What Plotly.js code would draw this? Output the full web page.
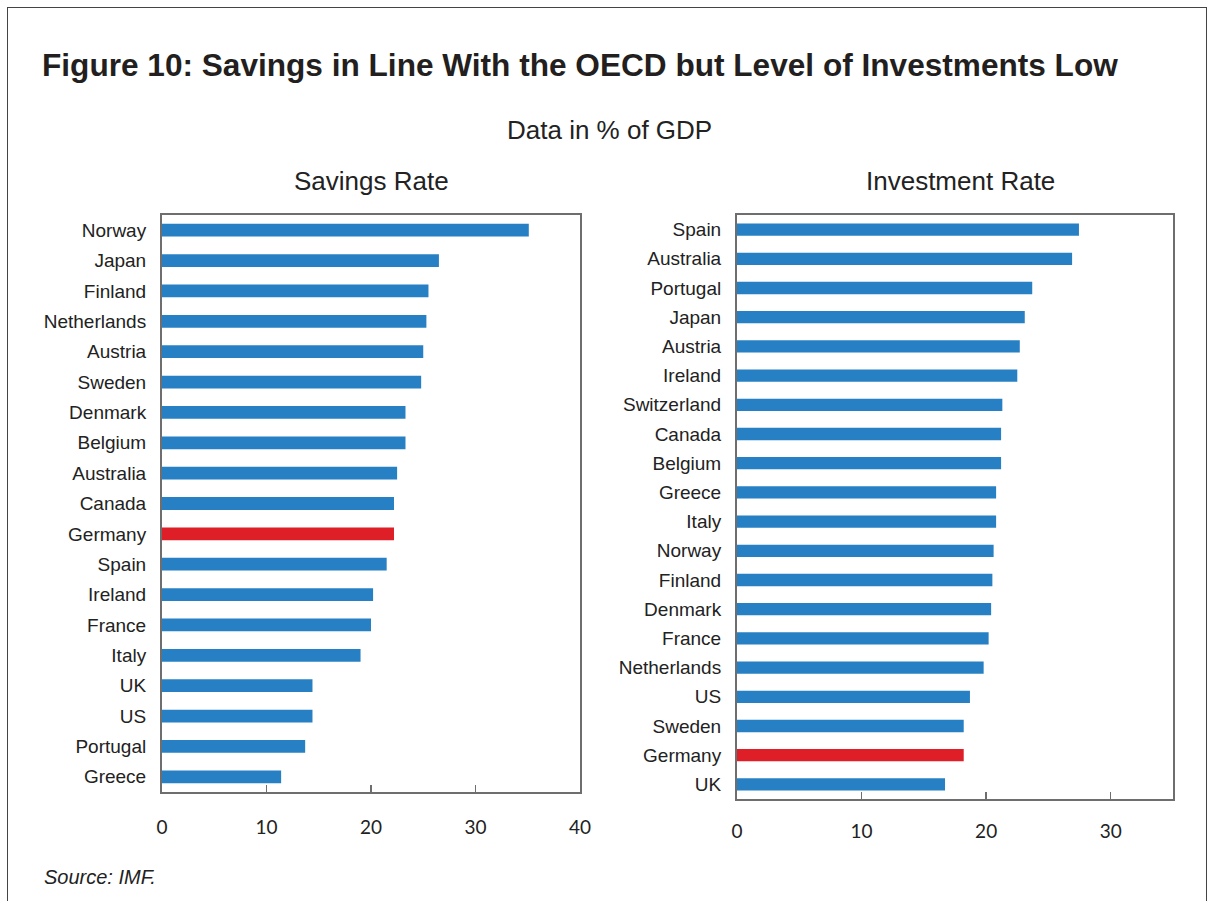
<!DOCTYPE html>
<html>
<head>
<meta charset="utf-8">
<script src="https://cdn.plot.ly/plotly-3.0.1.min.js"></script>
<style>
html,body{margin:0;padding:0;background:#fff;}
#wrap{position:relative;width:1209px;height:901px;overflow:hidden;}
#chart{position:absolute;left:0;top:0;width:1209px;height:901px;}
#frame{position:absolute;left:7px;top:7px;width:1198px;height:910px;border:1.5px solid #444;pointer-events:none;}
</style>
</head>
<body>
<div id="wrap"><div id="chart"></div><div id="frame"></div></div>
<script>
// Savings rate (% of GDP)
const savingsCountries = ["Norway","Japan","Finland","Netherlands","Austria","Sweden","Denmark","Belgium","Australia","Canada","Germany","Spain","Ireland","France","Italy","UK","US","Portugal","Greece"];
const savingsValues = [35.1,26.5,25.5,25.3,25.0,24.8,23.3,23.3,22.5,22.2,22.2,21.5,20.2,20.0,19.0,14.4,14.4,13.7,11.4];

// Investment rate (% of GDP)
const investCountries = ["Spain","Australia","Portugal","Japan","Austria","Ireland","Switzerland","Canada","Belgium","Greece","Italy","Norway","Finland","Denmark","France","Netherlands","US","Sweden","Germany","UK"];
const investValues = [27.45,26.9,23.7,23.1,22.7,22.5,21.3,21.2,21.2,20.8,20.8,20.6,20.5,20.4,20.2,19.8,18.7,18.2,18.2,16.7];

const xTicksLeft = [0,10,20,30,40];
const xTicksRight = [0,10,20,30];
const highlight = "Germany";

const BLUE = "#2780c3", RED = "#de1f27";
const colorsFor = arr => arr.map(c => c === highlight ? RED : BLUE);

const W = 1209, H = 901;
const px = x => x / W, py = y => 1 - y / H;

const traces = [
  {type:"bar", orientation:"h", x:savingsValues, y:savingsCountries, xaxis:"x", yaxis:"y",
   marker:{color:colorsFor(savingsCountries)}, hoverinfo:"x+y", showlegend:false},
  {type:"bar", orientation:"h", x:investValues, y:investCountries, xaxis:"x2", yaxis:"y2",
   marker:{color:colorsFor(investCountries)}, hoverinfo:"x+y", showlegend:false}
];

const tickFont = {family:"Lato, 'Liberation Sans', sans-serif", size:19, color:"#222"};
const catFont = {family:"'Liberation Sans', Arial, sans-serif", size:19, color:"#222"};
const axLine = {showline:true, mirror:true, linecolor:"#6e6e6e", linewidth:2, showgrid:false, zeroline:false};

const layout = {
  width:W, height:H,
  margin:{l:0,r:0,t:0,b:0},
  paper_bgcolor:"#fff", plot_bgcolor:"#fff",
  bargap:0.58,
  xaxis:Object.assign({domain:[px(162),px(580)], anchor:"y", range:[0,40], tickvals:xTicksLeft,
    ticktext:xTicksLeft.map(String), ticks:"inside", ticklen:7, tickwidth:1.5, tickcolor:"#6e6e6e",
    tickfont:tickFont, ticklabelstandoff:17, fixedrange:true}, axLine),
  yaxis:Object.assign({domain:[py(792),py(215)], anchor:"x", type:"category", autorange:"reversed",
    ticks:"", tickfont:catFont, ticklabelstandoff:10, fixedrange:true}, axLine),
  xaxis2:Object.assign({domain:[px(737),px(1173)], anchor:"y2", range:[0,35], tickvals:xTicksRight,
    ticktext:xTicksRight.map(String), ticks:"inside", ticklen:7, tickwidth:1.5, tickcolor:"#6e6e6e",
    tickfont:tickFont, ticklabelstandoff:14, fixedrange:true}, axLine),
  yaxis2:Object.assign({domain:[py(799),py(215)], anchor:"x2", type:"category", autorange:"reversed",
    ticks:"", tickfont:catFont, ticklabelstandoff:10, fixedrange:true}, axLine),
  annotations:[
    {text:"<b>Figure 10: Savings in Line With the OECD but Level of Investments Low</b>", xref:"paper", yref:"paper",
     x:px(40), y:py(65), xanchor:"left", yanchor:"middle", showarrow:false,
     font:{family:"'Liberation Sans', Arial, sans-serif", size:31.6, color:"#231f20"}},
    {text:"Data in % of GDP", xref:"paper", yref:"paper", x:px(609), y:py(130), xanchor:"center", yanchor:"middle",
     showarrow:false, font:{family:"'Liberation Sans', Arial, sans-serif", size:26, color:"#222"}},
    {text:"Savings Rate", xref:"paper", yref:"paper", x:px(371), y:py(181), xanchor:"center", yanchor:"middle",
     showarrow:false, font:{family:"'Liberation Sans', Arial, sans-serif", size:26, color:"#222"}},
    {text:"Investment Rate", xref:"paper", yref:"paper", x:px(961), y:py(181), xanchor:"center", yanchor:"middle",
     showarrow:false, font:{family:"'Liberation Sans', Arial, sans-serif", size:26, color:"#222"}},
    {text:"<i>Source: IMF.</i>", xref:"paper", yref:"paper", x:px(42), y:py(877), xanchor:"left", yanchor:"middle",
     showarrow:false, font:{family:"'Liberation Sans', Arial, sans-serif", size:20, color:"#222"}}
  ]
};

Plotly.newPlot("chart", traces, layout, {displayModeBar:false, staticPlot:true});
</script>
</body>
</html>
